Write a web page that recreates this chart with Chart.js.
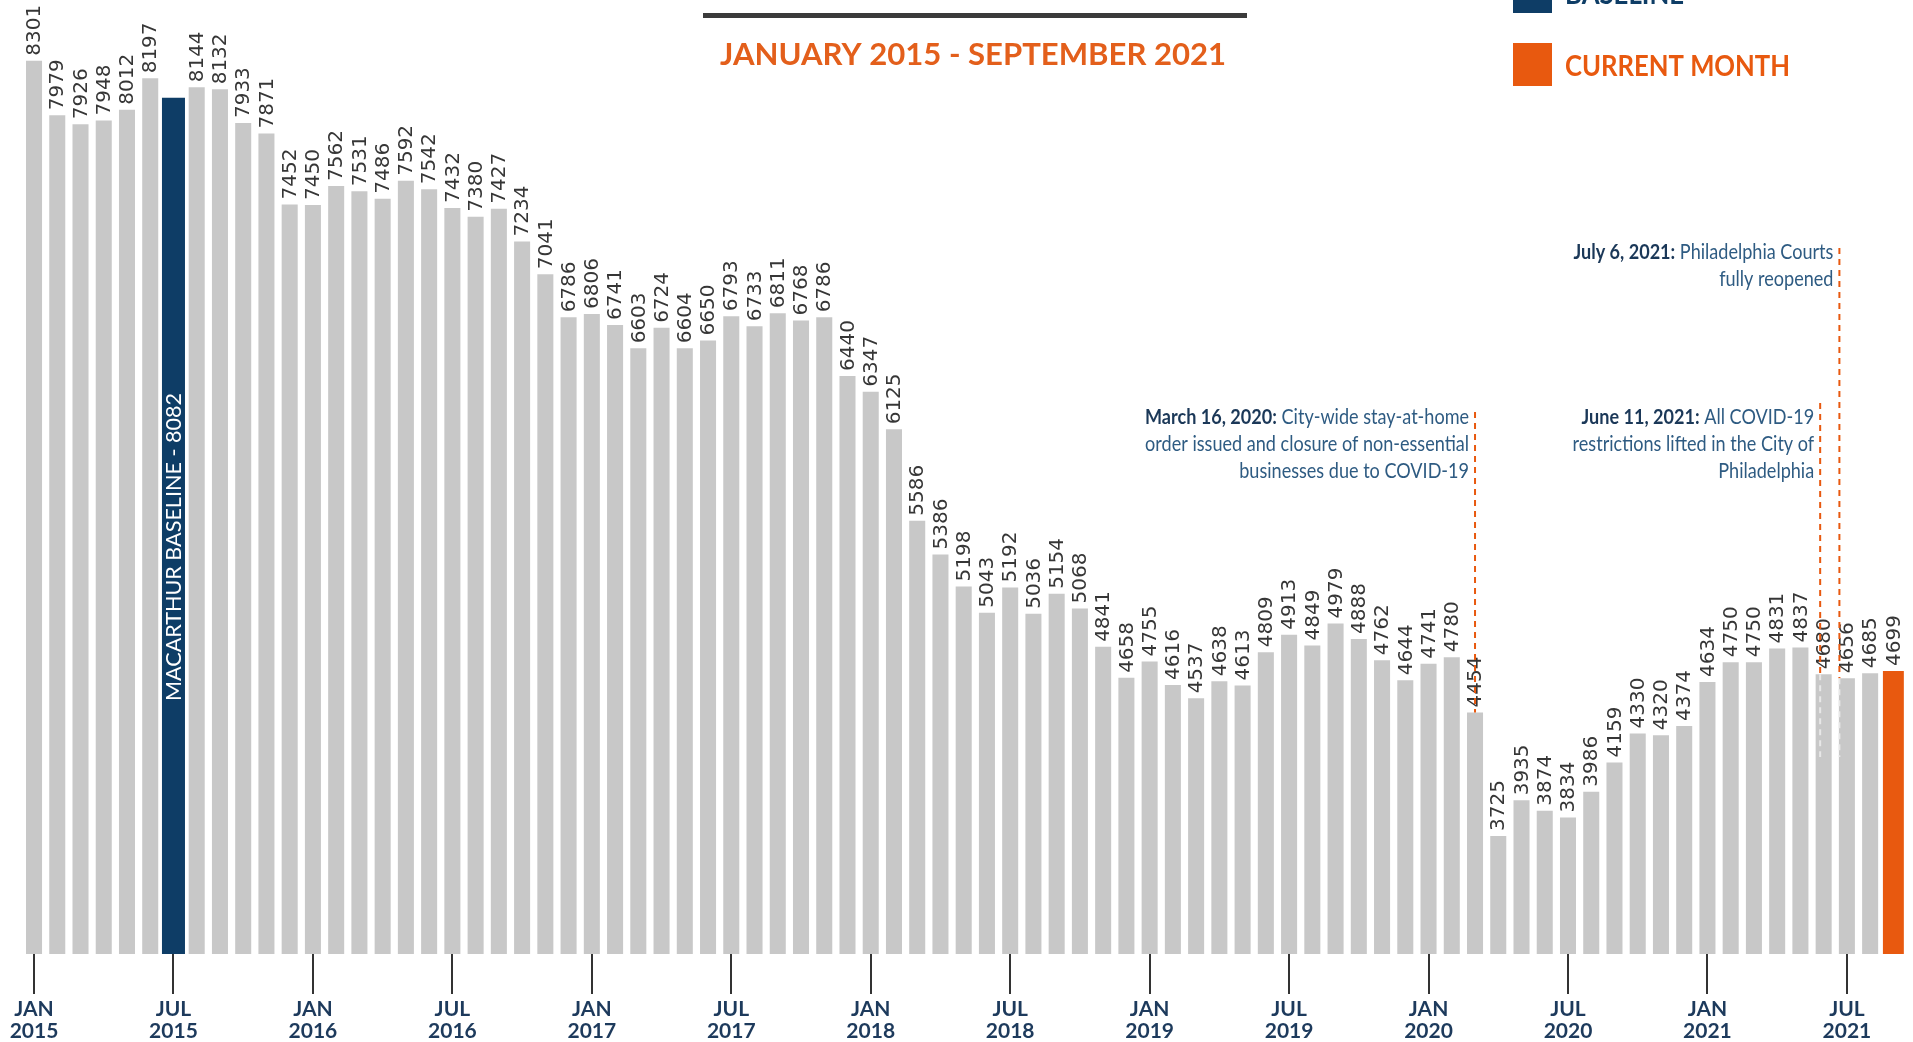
<!DOCTYPE html>
<html>
<head>
<meta charset="utf-8">
<script src="https://cdn.jsdelivr.net/npm/chart.js@4/dist/chart.umd.min.js"></script>
<style>
html,body{margin:0;padding:0;background:#fff;overflow:hidden}
#wrap{width:1913px;height:1042px;position:relative}
</style>
</head>
<body>
<div id="wrap"><canvas id="c"></canvas></div>
<script>
// ---- data ----
const categories = [
 'Jan 2015','Feb 2015','Mar 2015','Apr 2015','May 2015','Jun 2015','Jul 2015','Aug 2015','Sep 2015','Oct 2015','Nov 2015','Dec 2015',
 'Jan 2016','Feb 2016','Mar 2016','Apr 2016','May 2016','Jun 2016','Jul 2016','Aug 2016','Sep 2016','Oct 2016','Nov 2016','Dec 2016',
 'Jan 2017','Feb 2017','Mar 2017','Apr 2017','May 2017','Jun 2017','Jul 2017','Aug 2017','Sep 2017','Oct 2017','Nov 2017','Dec 2017',
 'Jan 2018','Feb 2018','Mar 2018','Apr 2018','May 2018','Jun 2018','Jul 2018','Aug 2018','Sep 2018','Oct 2018','Nov 2018','Dec 2018',
 'Jan 2019','Feb 2019','Mar 2019','Apr 2019','May 2019','Jun 2019','Jul 2019','Aug 2019','Sep 2019','Oct 2019','Nov 2019','Dec 2019',
 'Jan 2020','Feb 2020','Mar 2020','Apr 2020','May 2020','Jun 2020','Jul 2020','Aug 2020','Sep 2020','Oct 2020','Nov 2020','Dec 2020',
 'Jan 2021','Feb 2021','Mar 2021','Apr 2021','May 2021','Jun 2021','Jul 2021','Aug 2021','Sep 2021'
];
const values = [
 8301,7979,7926,7948,8012,8197,8082,8144,8132,7933,7871,7452,
 7450,7562,7531,7486,7592,7542,7432,7380,7427,7234,7041,6786,
 6806,6741,6603,6724,6604,6650,6793,6733,6811,6768,6786,6440,
 6347,6125,5586,5386,5198,5043,5192,5036,5154,5068,4841,4658,
 4755,4616,4537,4638,4613,4809,4913,4849,4979,4888,4762,4644,
 4741,4780,4454,3725,3935,3874,3834,3986,4159,4330,4320,4374,
 4634,4750,4750,4831,4837,4680,4656,4685,4699
];
const baselineMonth = 'Jul 2015';
const baselineLabel = 'MACARTHUR BASELINE - 8082';
const currentMonth = 'Sep 2021';
const tickMonths = ['Jan','Jul'];
const titleText = 'JANUARY 2015 - SEPTEMBER 2021';
const legendLabels = ['BASELINE','CURRENT MONTH'];
const events = [
 {month:'Mar 2020', day:16, days:31, bold:'March 16, 2020:', lines:[' City-wide stay-at-home','order issued and closure of non-essential','businesses due to COVID-19']},
 {month:'Jun 2021', day:11, days:30, bold:'June 11, 2021:', lines:[' All COVID-19','restrictions lifted in the City of','Philadelphia']},
 {month:'Jul 2021', day:6, days:31, bold:'July 6, 2021:', lines:[' Philadelphia Courts','fully reopened']}
];

// ---- derived ----
const baseIdx = categories.indexOf(baselineMonth);
const curIdx = categories.indexOf(currentMonth);
const grayData = values.map((v,i)=> (i===baseIdx||i===curIdx) ? null : v);
const baseData = values.map((v,i)=> i===baseIdx ? v : null);
const curData = values.map((v,i)=> i===curIdx ? v : null);
const tickLabels = categories.map(c=>{
  const [m,y] = c.split(' ');
  return tickMonths.includes(m) ? [m.toUpperCase(), y] : '';
});

const NAVY = '#0e3d66', ORANGE = '#e8590f', GRAY = '#c8c8c8';

function fitText(ctx, text, x, y, font, color, width, align, scaleX){
  ctx.save();
  ctx.font = font; ctx.fillStyle = color; ctx.textBaseline = 'alphabetic';
  const w = ctx.measureText(text).width;
  const s = width ? width / w : (scaleX || 1);
  ctx.translate(x, y); ctx.scale(s, 1);
  ctx.textAlign = align || 'left';
  ctx.fillText(text, 0, 0);
  ctx.restore();
}

const overlay = {
  id: 'overlay',
  afterDatasetsDraw(chart){
    const {ctx, scales:{x, y}} = chart;
    ctx.save();
    // value labels
    ctx.font = '20px "DejaVu Sans"';
    ctx.fillStyle = '#363636';
    values.forEach((v,i)=>{
      if (i === baseIdx) return;
      const px = x.getPixelForValue(i), py = y.getPixelForValue(v);
      ctx.save();
      ctx.translate(px + 1, py - 5);
      ctx.rotate(-Math.PI/2);
      ctx.textAlign = 'left'; ctx.textBaseline = 'middle';
      ctx.fillText(String(v), 0, 0);
      ctx.restore();
    });
    // baseline label inside bar
    ctx.save();
    ctx.translate(x.getPixelForValue(baseIdx) + 1, 547);
    ctx.rotate(-Math.PI/2);
    fitText(ctx, baselineLabel, 0, 7, '21px Lato', '#ffffff', 308, 'center');
    ctx.restore();

    // title bar + subtitle
    ctx.fillStyle = '#3b3b3b';
    ctx.fillRect(703, 13, 544, 5);
    fitText(ctx, titleText, 720, 65, 'bold 30px Lato', '#e35f1b', 506, 'left');

    // legend
    ctx.fillStyle = NAVY; ctx.fillRect(1513, -30, 39, 43);
    fitText(ctx, legendLabels[0], 1565, 4, 'bold 29px Lato', NAVY, 119, 'left');
    ctx.fillStyle = ORANGE; ctx.fillRect(1513, 43, 39, 43);
    fitText(ctx, legendLabels[1], 1565, 76, 'bold 29px Lato', ORANGE, 225, 'left');

    // event annotations
    const tops = [412, 403, 248];
    const baselines = [[424,451,478],[424,451,478],[259,286]];
    const ends = [null, 757, 757];
    const sA = 0.86;
    events.forEach((ev, k)=>{
      const idx = categories.indexOf(ev.month);
      const pos = idx + (ev.day - 0.5)/ev.days - 0.5;
      const lx = x.getPixelForValue(pos);
      const barTop = y.getPixelForValue(values[idx]);
      ctx.save();
      ctx.strokeStyle = ORANGE; ctx.lineWidth = 2; ctx.setLineDash([6,5]);
      ctx.beginPath(); ctx.moveTo(lx, tops[k]); ctx.lineTo(lx, barTop); ctx.stroke();
      if (ends[k]) {
        ctx.strokeStyle = 'rgba(235,235,235,0.9)';
        ctx.beginPath(); ctx.moveTo(lx, barTop); ctx.lineTo(lx, ends[k]); ctx.stroke();
      }
      ctx.restore();
      const rx = lx - 6;
      ev.lines.forEach((ln, j)=>{
        const by = baselines[k][j];
        if (j === 0) {
          ctx.save();
          ctx.font = '21px Lato';
          const wr = ctx.measureText(ln).width * sA;
          ctx.translate(rx, by); ctx.scale(sA, 1);
          ctx.textAlign = 'right'; ctx.textBaseline = 'alphabetic';
          ctx.fillStyle = '#2e5b82'; ctx.fillText(ln, 0, 0);
          ctx.font = 'bold 21px Lato'; ctx.fillStyle = '#1b3858';
          ctx.fillText(ev.bold, -wr / sA, 0);
          ctx.restore();
        } else {
          fitText(ctx, ln, rx, by, '21px Lato', '#2e5b82', null, 'right', sA);
        }
      });
    });
    ctx.restore();
  }
};

new Chart(document.getElementById('c'), {
  type: 'bar',
  data: {
    labels: categories,
    datasets: [
      {label:'Monthly', data: grayData, backgroundColor: GRAY, barPercentage: 0.69, categoryPercentage: 1, grouped: false},
      {label:'Baseline', data: baseData, backgroundColor: NAVY, barPercentage: 0.99, categoryPercentage: 1, grouped: false},
      {label:'Current month', data: curData, backgroundColor: ORANGE, barPercentage: 0.9, categoryPercentage: 1, grouped: false}
    ]
  },
  options: {
    responsive: true,
    maintainAspectRatio: false,
    animation: false,
    layout: {padding: {top: 27, left: 22.4, right: 8, bottom: 0}},
    plugins: {legend: {display: false}, tooltip: {enabled: false}, title: {display: false}},
    scales: {
      x: {
        offset: true,
        border: {display: false},
        grid: {
          offset: false, drawOnChartArea: false, drawTicks: true, tickLength: 40, lineWidth: 2,
          color: (c)=> (tickLabels[c.index] ? '#333333' : 'rgba(0,0,0,0)')
        },
        ticks: {
          autoSkip: false, maxRotation: 0, minRotation: 0, padding: 4,
          color: '#1d3a5c',
          font: {family: 'Lato', weight: 'bold', size: 21, lineHeight: 1.05},
          callback: (val, i)=> tickLabels[i]
        },
        afterFit: (s)=> { s.height = 88; }
      },
      y: {display: false, min: 3028, max: 8500}
    }
  },
  plugins: [overlay]
});
</script>
</body>
</html>
